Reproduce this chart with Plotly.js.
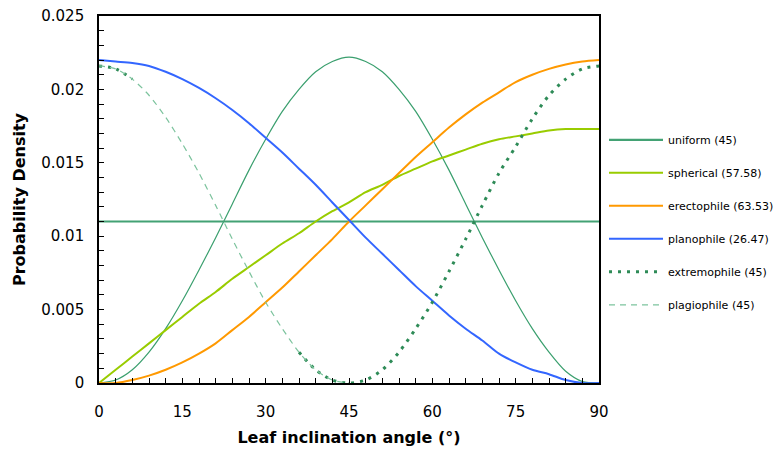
<!DOCTYPE html>
<html>
<head>
<meta charset="utf-8">
<script src="https://cdn.plot.ly/plotly-3.0.1.min.js"></script>
<style>html,body{margin:0;padding:0;background:#fff;}#chart{width:775px;height:451px;}</style>
</head>
<body>
<div id="chart"></div>
<script>
// Leaf inclination angle (degrees)
const angles = [0,3,6,9,12,15,18,21,24,27,30,33,36,39,42,45,48,51,54,57,60,63,66,69,72,75,78,81,84,87,90];

// Series values (probability density)
const uniform = [0.011,0.011,0.011,0.011,0.011,0.011,0.011,0.011,0.011,0.011,0.011,0.011,0.011,0.011,0.011,0.011,0.011,0.011,0.011,0.011,0.011,0.011,0.011,0.011,0.011,0.011,0.011,0.011,0.011,0.011,0.011];
const spherical = [0,0.0009,0.0018,0.0027,0.0036,0.0045,0.0054,0.0062,0.0071,0.0079,0.0087,0.0095,0.0102,0.0110,0.0117,0.0123,0.0130,0.0135,0.0141,0.0146,0.0151,0.0155,0.0159,0.0163,0.0166,0.0168,0.0170,0.0172,0.0173,0.0173,0.0173];
const erectophile = [0,0.0000,0.0002,0.0005,0.0009,0.0014,0.0020,0.0027,0.0036,0.0045,0.0055,0.0065,0.0076,0.0087,0.0098,0.0110,0.0121,0.0132,0.0143,0.0154,0.0164,0.0174,0.0183,0.0191,0.0198,0.0205,0.0210,0.0214,0.0217,0.0219,0.0220];
const planophile = [0.0220,0.0219,0.0218,0.0216,0.0212,0.0207,0.0201,0.0194,0.0186,0.0177,0.0167,0.0157,0.0146,0.0135,0.0123,0.0111,0.0099,0.0088,0.0077,0.0066,0.0056,0.0046,0.0037,0.0029,0.0020,0.0014,0.0009,0.0006,0.0002,0.0000,0.0000];
const bellCurve = [0,0.0002,0.0009,0.0021,0.0037,0.0056,0.0077,0.0099,0.0122,0.0145,0.0166,0.0185,0.0200,0.0212,0.0219,0.0222,0.0219,0.0212,0.0200,0.0185,0.0166,0.0145,0.0122,0.0099,0.0077,0.0056,0.0037,0.0021,0.0008,0.0001,0];
const extremophile = [0.0216,0.0214,0.0207,null,null,null,null,null,null,null,null,null,0.0021,0.0009,0.0002,0.0000,0.0002,0.0009,0.0021,0.0037,0.0055,0.0076,0.0098,0.0121,0.0143,0.0161,0.0180,0.0196,0.0207,0.0214,0.0216];
const plagiophile = [0.0216,0.0214,0.0207,0.0196,0.0181,0.0163,0.0143,0.0121,0.0098,0.0076,0.0055,0.0037,0.0021,0.0009,0.0002,0.0000,null,null,null,null,null,null,null,null,null,null,null,null,null,null,null];

const names = ['uniform (45)','spherical (57.58)','erectophile (63.53)','planophile (26.47)','extremophile (45)','plagiophile (45)'];
const xTicks = [0,15,30,45,60,75,90];

const sp = {shape:'spline', smoothing:0.8};
const traces = [
  {x: angles, y: bellCurve, mode:'lines', showlegend:false, name:'', line:Object.assign({color:'#3A9F6E', width:1.2}, sp), hoverinfo:'skip'},
  {x: angles, y: uniform, mode:'lines', name:names[0], legendgroup:'a', line:{color:'#43A274', width:2.2}},
  {x: angles, y: spherical, mode:'lines', name:names[1], legendgroup:'b', line:Object.assign({color:'#99CC00', width:2}, sp)},
  {x: angles, y: erectophile, mode:'lines', name:names[2], legendgroup:'c', line:Object.assign({color:'#FF9900', width:2}, sp)},
  {x: angles, y: planophile, mode:'lines', name:names[3], legendgroup:'d', line:Object.assign({color:'#3366FF', width:2}, sp)},
  {x: angles, y: extremophile, mode:'lines', name:names[4], legendgroup:'e', connectgaps:false, line:Object.assign({color:'#2E8B57', width:3, dash:'3px,6px'}, sp)},
  {x: angles, y: plagiophile, mode:'lines', name:names[5], legendgroup:'f', connectgaps:false, line:Object.assign({color:'#7CC39D', width:1.2, dash:'6px,5px'}, sp)}
];

const tickFont = {family:'DejaVu Sans', size:15, color:'#000'};
const titleFont = {family:'DejaVu Sans', size:16, color:'#000', weight:'bold'};

const layout = {
  width:775, height:451,
  margin:{l:99, r:176, t:16, b:68, pad:0, autoexpand:false},
  paper_bgcolor:'#fff', plot_bgcolor:'#fff',
  showlegend:true,
  legend:{x:1.01, xanchor:'left', y:0.702, yanchor:'top', traceorder:'grouped', tracegroupgap:14,
          itemwidth:54, font:{family:'DejaVu Sans', size:11, color:'#000'}, bgcolor:'rgba(0,0,0,0)'},
  xaxis:{range:[0,90], tickvals:xTicks, ticks:'inside', ticklen:5, tickwidth:1, tickcolor:'#000',
         showline:true, linecolor:'#000', linewidth:1.8, mirror:true, showgrid:false, zeroline:false,
         tickfont:tickFont, ticklabelstandoff:14, automargin:false,
         minor:{dtick:3, ticks:'inside', ticklen:5, tickwidth:1, tickcolor:'#000', showgrid:false},
         title:{text:'Leaf inclination angle (°)', font:titleFont, standoff:12}},
  yaxis:{range:[0,0.025], dtick:0.005, ticks:'inside', ticklen:5, tickwidth:1, tickcolor:'#000',
         showline:true, linecolor:'#000', linewidth:1.8, mirror:true, showgrid:false, zeroline:false,
         tickfont:tickFont, ticklabelstandoff:10, automargin:false,
         minor:{dtick:0.001, ticks:'inside', ticklen:5, tickwidth:1, tickcolor:'#000', showgrid:false},
         title:{text:'Probability Density', font:titleFont, standoff:12}}
};

Plotly.newPlot('chart', traces, layout, {staticPlot:true, displayModeBar:false});
</script>
</body>
</html>
